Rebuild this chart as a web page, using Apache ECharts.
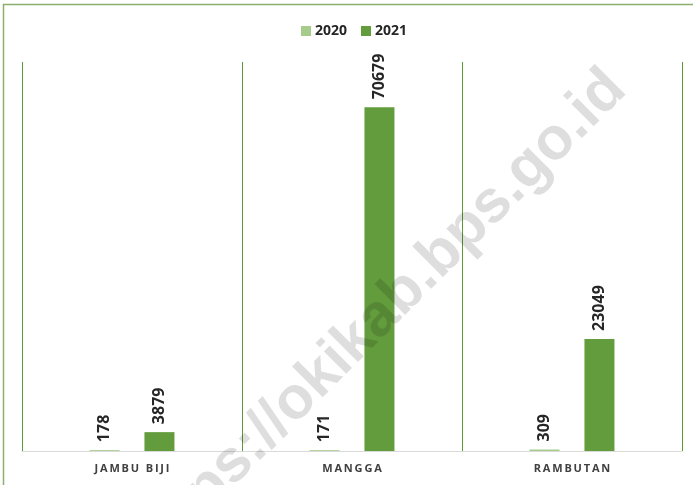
<!DOCTYPE html>
<html>
<head>
<meta charset="utf-8">
<script src="https://cdn.jsdelivr.net/npm/echarts@6/dist/echarts.min.js"></script>
<style>
  html, body { margin: 0; padding: 0; background: #fff; }
  #chart { width: 693px; height: 485px; }
</style>
</head>
<body>
<div id="chart"></div>
<script>
// data
const categories = ["JAMBU BIJI", "MANGGA", "RAMBUTAN"];
const years = ["2020", "2021"];
const values2020 = [178, 171, 309];
const values2021 = [3879, 70679, 23049];

const colors = ["#a6cc8c", "#629c3d"];
const labelFont = "'Open Sans', 'Liberation Sans', sans-serif";

const chart = echarts.init(document.getElementById("chart"));

// label style shared by both series
function barLabel() {
    return {
        show: true,
        position: "top",
        rotate: 90,
        align: "left",
        verticalAlign: "middle",
        distance: 8,
        color: "#262626",
        fontFamily: labelFont,
        fontWeight: "bold",
        fontSize: 16
    };
}

// tracked-out capitals like the original axis labels
function spaced(str) {
    return str.split("").join("\u2009");
}

const option = {
    animation: false,
    backgroundColor: "#fff",
    color: colors,
    legend: {
        top: 24,
        left: 301,
        padding: 0,
        itemWidth: 10,
        itemHeight: 10,
        itemGap: 14,
        icon: "rect",
        textStyle: {
            fontFamily: labelFont,
            fontWeight: "bold",
            fontSize: 14,
            color: "#262626",
            padding: [0, 0, 0, -1]
        },
        data: years
    },
    grid: { left: 22, right: 11, top: 62, bottom: 34 },
    xAxis: {
        type: "category",
        data: categories,
        axisLine: { show: true, lineStyle: { color: "#d9d9d9", width: 1 } },
        axisTick: { show: false },
        splitLine: { show: true, lineStyle: { color: "#5e9a34", width: 1 } },
        axisLabel: {
            margin: 12,
            color: "#404040",
            fontFamily: labelFont,
            fontWeight: "bold",
            fontSize: 11,
            formatter: spaced
        }
    },
    yAxis: {
        type: "value",
        min: 0,
        max: 80000,
        show: false,
        splitLine: { show: false }
    },
    graphic: [
        {
            type: "rect",
            z: 100,
            shape: { x: 3.5, y: 4.5, width: 760, height: 560 },
            style: { fill: "none", stroke: "#8cae6e", lineWidth: 1.5 }
        },
        {
            type: "text",
            z: 100,
            x: 638,
            y: 101,
            rotation: Math.PI / 4,
            style: {
                text: "https://okikab.bps.go.id",
                fontFamily: "'Liberation Sans', Arial, sans-serif",
                fontWeight: "bold",
                fontSize: 60,
                fill: "rgba(0,0,0,0.13)",
                textAlign: "right",
                textVerticalAlign: "bottom"
            }
        }
    ],
    series: [
        {
            name: years[0],
            type: "bar",
            data: values2020,
            barWidth: 30,
            barGap: "83%",
            label: barLabel()
        },
        {
            name: years[1],
            type: "bar",
            data: values2021,
            barWidth: 30,
            label: barLabel()
        }
    ]
};

chart.setOption(option);
</script>
</body>
</html>
